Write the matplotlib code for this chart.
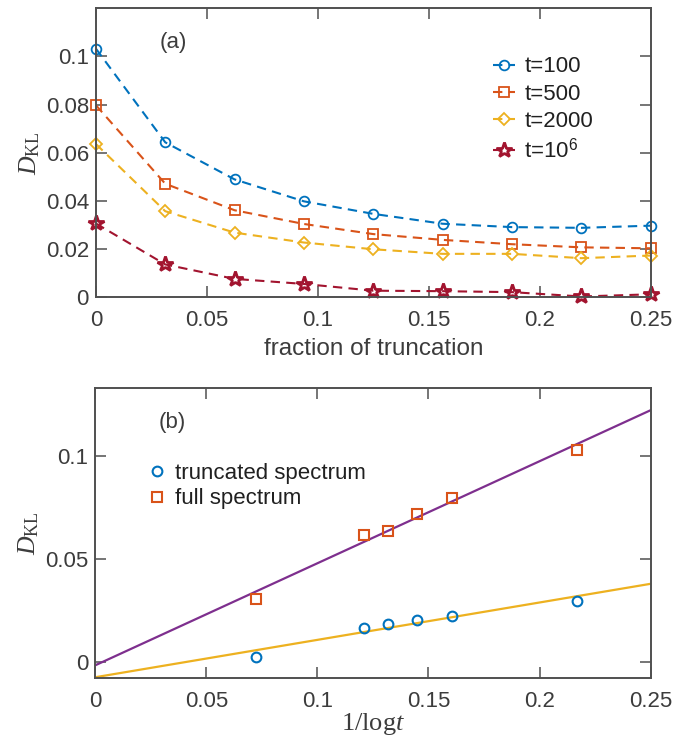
import numpy as np
import matplotlib
matplotlib.use("Agg")
import matplotlib.pyplot as plt
from matplotlib.ticker import FuncFormatter

plt.rcParams['font.family'] = ['Liberation Sans', 'DejaVu Sans']
plt.rcParams['mathtext.fontset'] = 'custom'
plt.rcParams['mathtext.rm'] = 'Liberation Serif'
plt.rcParams['mathtext.it'] = 'Liberation Serif:italic'
plt.rcParams['mathtext.bf'] = 'Liberation Serif:bold'
plt.rcParams['mathtext.sf'] = 'Liberation Sans'

# (a) D_KL against fraction of truncation
frac = [0, 1/32, 2/32, 3/32, 4/32, 5/32, 6/32, 7/32, 8/32]
d_t100 = [0.1032, 0.0643, 0.0489, 0.0398, 0.0346, 0.0305, 0.0291, 0.0288, 0.0297]
d_t500 = [0.0797, 0.0471, 0.0361, 0.0304, 0.0262, 0.0238, 0.0220, 0.0207, 0.0203]
d_t2000 = [0.0636, 0.0357, 0.0268, 0.0227, 0.0199, 0.0180, 0.0180, 0.0162, 0.0173]
d_t1e6 = [0.0306, 0.0136, 0.0076, 0.0055, 0.0027, 0.0025, 0.0021, 0.0003, 0.0012]
labels_a = ['t=100', 't=500', 't=2000', r't=10$^{\mathsf{6}}$']

# (b) D_KL against 1/log t
inv_logt = [0.0724, 0.1208, 0.1318, 0.1448, 0.1608, 0.2168]
d_trunc = [0.0022, 0.0165, 0.0181, 0.0201, 0.0220, 0.0294]
d_full = [0.0305, 0.0616, 0.0634, 0.0716, 0.0798, 0.1029]

blue = '#0072BD'
orange = '#D95319'
yellow = '#EDB120'
purple = '#7E2F8E'
darkred = '#A2142F'
axcol = '#505050'
txtcol = '#3c3c3c'

fig = plt.figure(figsize=(6.9, 7.43), dpi=100)
ax1 = fig.add_axes([0.139, 0.600, 0.804, 0.389])
ax2 = fig.add_axes([0.138, 0.0875, 0.805, 0.390])

fmt = FuncFormatter(lambda v, p: '%g' % round(v, 4))


def style(ax):
    for s in ax.spines.values():
        s.set_color(axcol)
        s.set_linewidth(1.4)
    ax.tick_params(direction='in', length=8, width=1.1, color=axcol,
                   labelcolor=txtcol, labelsize=16, top=True, right=True)
    ax.tick_params(axis='x', pad=9.5)
    ax.tick_params(axis='y', pad=5)
    ax.xaxis.set_major_formatter(fmt)
    ax.yaxis.set_major_formatter(fmt)


dash = (0, (4.5, 3))
series = [(d_t100, blue, 'o', 7, 1.3),
          (d_t500, orange, 's', 6.5, 1.3),
          (d_t2000, yellow, 'D', 6.2, 1.3),
          (d_t1e6, darkred, '*', 11.5, 2.0)]
for (vals, c, m, ms, mew), lab in zip(series, labels_a):
    ax1.plot(frac, vals, linestyle=dash, color=c, lw=1.5, marker=m, ms=ms,
             mfc='none', mec=c, mew=mew, label=lab, clip_on=False)

ax1.set_xlim(0, 0.25)
ax1.set_ylim(0, 0.12)
ax1.set_xticks([0, 0.05, 0.1, 0.15, 0.2, 0.25])
ax1.set_yticks([0, 0.02, 0.04, 0.06, 0.08, 0.1])
style(ax1)
ax1.set_xlabel('fraction of truncation', fontsize=17.5, color=txtcol, labelpad=5)
ax1.set_ylabel(r'$D_{\mathrm{KL}}$', fontsize=18.5, color=txtcol, labelpad=3)
ax1.text(0.139, 0.88, '(a)', transform=ax1.transAxes, fontsize=16,
         color=txtcol, ha='center', va='center')
leg1 = ax1.legend(loc='upper left', bbox_to_anchor=(0.716, 0.833), frameon=False,
                  fontsize=16, handlelength=1.0, handletextpad=0.4,
                  labelspacing=0.28, borderpad=0, borderaxespad=0)
for t in leg1.get_texts():
    t.set_color('#202020')

# fit lines for (b)
p_full = np.polyfit(inv_logt, d_full, 1)
p_trunc = np.polyfit(inv_logt, d_trunc, 1)
xfit = np.array([0, 0.25])
ax2.plot(xfit, np.polyval(p_full, xfit), color=purple, lw=1.6)
ax2.plot(xfit, np.polyval(p_trunc, xfit), color=yellow, lw=1.6)
ax2.plot(inv_logt, d_trunc, linestyle='none', marker='o', ms=7, mfc='none',
         mec=blue, mew=1.5, label='truncated spectrum')
ax2.plot(inv_logt, d_full, linestyle='none', marker='s', ms=6.5, mfc='none',
         mec=orange, mew=1.5, label='full spectrum')

ax2.set_xlim(0, 0.25)
ax2.set_ylim(-0.008, 0.133)
ax2.set_xticks([0, 0.05, 0.1, 0.15, 0.2, 0.25])
ax2.set_yticks([0, 0.05, 0.1])
style(ax2)
ax2.set_xlabel(r'$1/\mathrm{log}t$', fontsize=19, color=txtcol, labelpad=-1)
ax2.set_ylabel(r'$D_{\mathrm{KL}}$', fontsize=18.5, color=txtcol, labelpad=3)
ax2.text(0.139, 0.88, '(b)', transform=ax2.transAxes, fontsize=16,
         color=txtcol, ha='center', va='center')
h, l = ax2.get_legend_handles_labels()
leg2 = ax2.legend(h[-2:], l[-2:], loc='upper left', bbox_to_anchor=(0.092, 0.742),
                  frameon=False, fontsize=16, handlelength=1.0,
                  handletextpad=0.3, labelspacing=0.2, borderpad=0,
                  borderaxespad=0)
for t in leg2.get_texts():
    t.set_color('#202020')

fig.savefig('out.png', dpi=100)
